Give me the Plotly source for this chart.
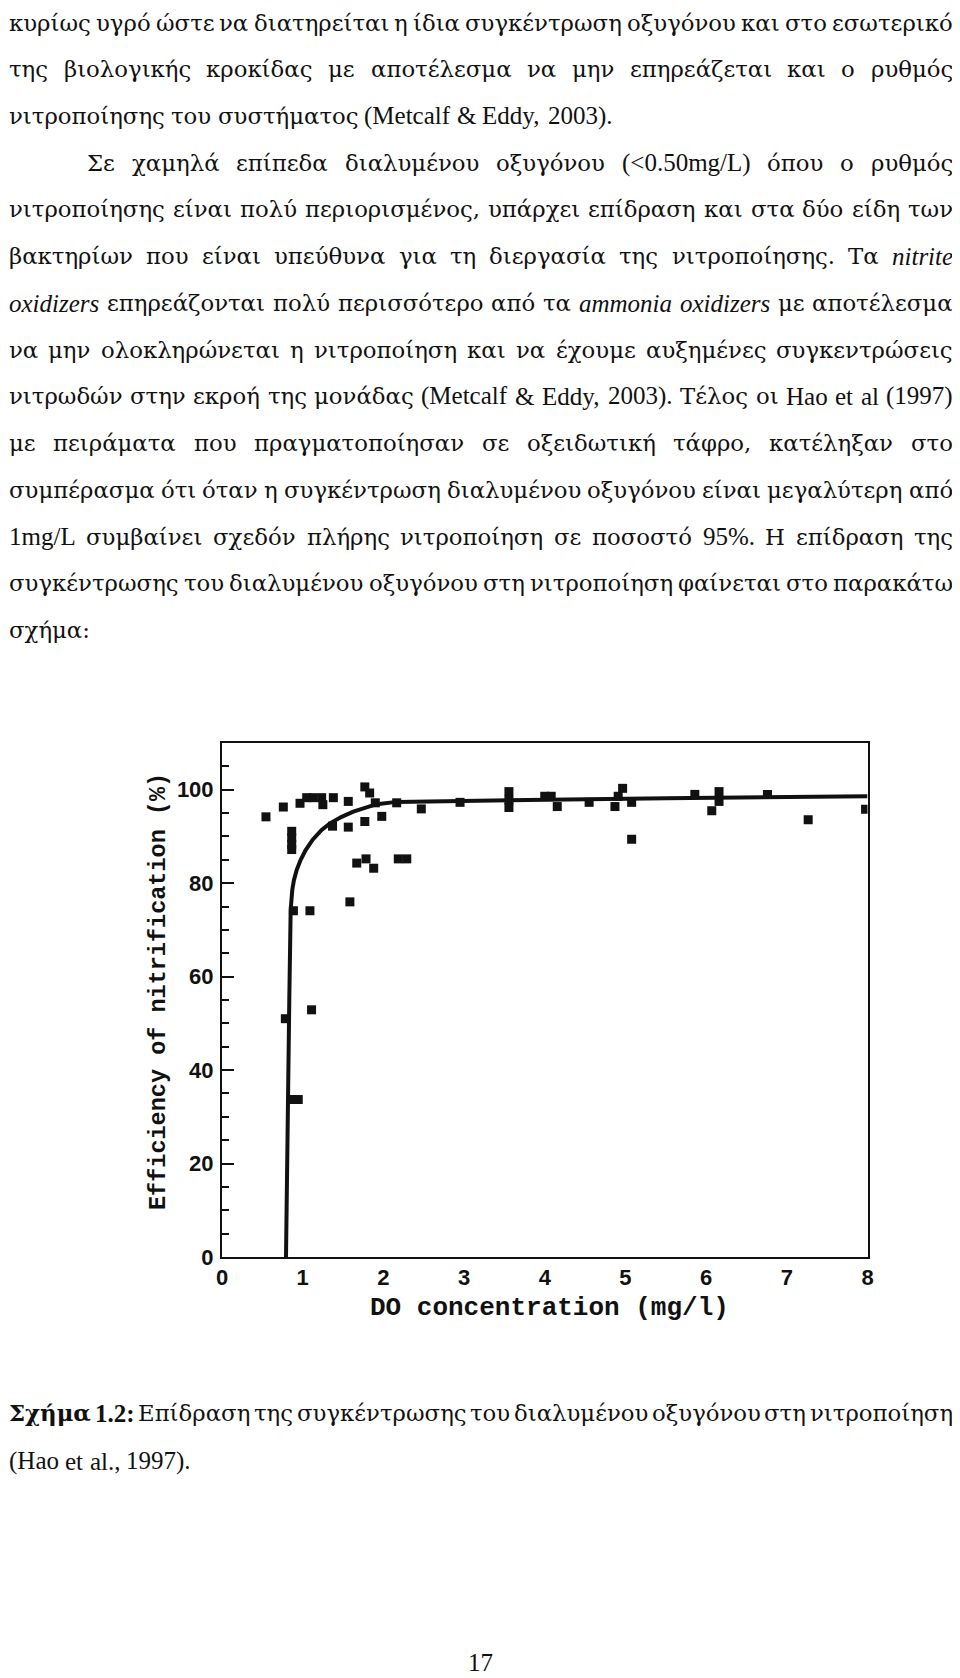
import plotly.graph_objects as go
import struct, glob, os

W, H = 960, 1678
PAGE_OFFSET = 8  # the page body has an 8 px margin; positions below are in page pixels

# ---------------- chart data ----------------
do_conc = [0.545, 0.76, 0.864, 0.864, 0.864, 0.864, 0.967, 1.05, 1.13, 1.235, 1.38,
           1.25, 1.37, 1.565, 1.565, 1.77, 1.83, 1.77, 1.90, 1.98, 1.67, 1.785, 1.88,
           2.185, 2.29, 2.165, 2.47, 2.95, 1.585, 0.885, 1.09, 1.11, 0.785, 0.864, 0.945,
           3.556, 3.556, 3.556, 4.0, 4.08, 4.155, 4.55, 4.87, 4.91, 4.965, 5.077, 5.077,
           5.86, 6.07, 6.16, 6.16, 6.76, 7.265, 7.976]
efficiency = [94.2, 96.3, 91.1, 89.7, 88.3, 87.2, 97.1, 98.3, 98.3, 98.3, 98.3,
              96.8, 92.2, 97.5, 92.0, 100.6, 99.3, 93.2, 97.2, 94.3, 84.3, 85.2, 83.2,
              85.2, 85.2, 97.2, 95.9, 97.3, 76.0, 74.1, 74.1, 52.9, 51.0, 33.7, 33.7,
              99.6, 97.8, 96.2, 98.6, 98.6, 96.4, 97.3, 96.4, 98.6, 100.3, 97.3, 89.4,
              99.0, 95.5, 99.6, 97.5, 99.0, 93.6, 95.8]

curve_do = [0.793, 0.805, 0.824, 0.834, 0.851, 0.855, 0.871, 0.892, 0.925, 0.975, 1.037,
            1.124, 1.235, 1.338, 1.483, 1.627, 1.772, 1.917, 2.165, 2.99, 5.51, 8.0]
curve_eff = [0.0, 22.9, 48.6, 55.0, 74.3, 75.7, 78.6, 80.7, 82.8, 85.0, 87.1,
             89.3, 91.4, 92.8, 94.2, 95.3, 96.2, 96.9, 97.4, 97.6, 98.2, 98.6]

x_ticks = [0, 1, 2, 3, 4, 5, 6, 7, 8]
y_ticks = [0, 20, 40, 60, 80, 100]
x_title = "DO concentration (mg/l)"
y_title = "Efficiency of nitrification (%)"

# ---------------- page text ----------------
# (text, justified, left indent px); _word_ = italic, **word** = bold
TEXT_L = 9
body_lines = [
    ("κυρίως υγρό ώστε να διατηρείται η ίδια συγκέντρωση οξυγόνου και στο εσωτερικό", True, TEXT_L),
    ("της βιολογικής κροκίδας με αποτέλεσμα να μην επηρεάζεται και ο ρυθμός", True, TEXT_L),
    ("νιτροποίησης του συστήματος (Metcalf & Eddy, 2003).", False, TEXT_L),
    ("Σε χαμηλά επίπεδα διαλυμένου οξυγόνου (<0.50mg/L) όπου ο ρυθμός", True, 87),
    ("νιτροποίησης είναι πολύ περιορισμένος, υπάρχει επίδραση και στα δύο είδη των", True, TEXT_L),
    ("βακτηρίων που είναι υπεύθυνα για τη διεργασία της νιτροποίησης. Τα _nitrite_", True, TEXT_L),
    ("_oxidizers_ επηρεάζονται πολύ περισσότερο από τα _ammonia_ _oxidizers_ με αποτέλεσμα", True, TEXT_L),
    ("να μην ολοκληρώνεται η νιτροποίηση και να έχουμε αυξημένες συγκεντρώσεις", True, TEXT_L),
    ("νιτρωδών στην εκροή της μονάδας (Metcalf & Eddy, 2003). Τέλος οι Hao et al (1997)", True, TEXT_L),
    ("με πειράματα που πραγματοποίησαν σε οξειδωτική τάφρο, κατέληξαν στο", True, TEXT_L),
    ("συμπέρασμα ότι όταν η συγκέντρωση διαλυμένου οξυγόνου είναι μεγαλύτερη από", True, TEXT_L),
    ("1mg/L συμβαίνει σχεδόν πλήρης νιτροποίηση σε ποσοστό 95%. Η επίδραση της", True, TEXT_L),
    ("συγκέντρωσης του διαλυμένου οξυγόνου στη νιτροποίηση φαίνεται στο παρακάτω", True, TEXT_L),
    ("σχήμα:", False, TEXT_L),
]
caption_lines = [
    ("**Σχήμα** **1.2:** Επίδραση της συγκέντρωσης του διαλυμένου οξυγόνου στη νιτροποίηση", True, TEXT_L),
    ("(Hao et al., 1997).", False, TEXT_L),
]
page_number = "17"

# ---------------- geometry (page pixels) ----------------
PLOT_L, PLOT_R, PLOT_T, PLOT_B = 222, 867.5, 743, 1257
TEXT_R = 953
BODY_Y0, BODY_DY = 22.5, 46.75
CAPTION_Y = [1413, 1461]


def px(x):
    return (x - PAGE_OFFSET) / W


def py(y):
    return 1 - (y - PAGE_OFFSET) / H


# ---------------- font metrics (for justification) ----------------
def load_metrics(path):
    with open(path, 'rb') as f:
        data = f.read()
    num = struct.unpack('>H', data[4:6])[0]
    tables = {}
    for i in range(num):
        tag, cs, off, ln = struct.unpack('>4sIII', data[12 + 16 * i:28 + 16 * i])
        tables[tag.decode('latin1')] = off
    head = tables['head']
    upem = struct.unpack('>H', data[head + 18:head + 20])[0]
    hhea = tables['hhea']
    nhm = struct.unpack('>H', data[hhea + 34:hhea + 36])[0]
    hm = tables['hmtx']
    adv = [struct.unpack('>H', data[hm + 4 * i:hm + 4 * i + 2])[0] for i in range(nhm)]
    cm = tables['cmap']
    nsub = struct.unpack('>H', data[cm + 2:cm + 4])[0]
    sub = None
    for i in range(nsub):
        pid, eid, off = struct.unpack('>HHI', data[cm + 4 + 8 * i:cm + 12 + 8 * i])
        fmt = struct.unpack('>H', data[cm + off:cm + off + 2])[0]
        if fmt == 4 and (pid == 3 or pid == 0):
            sub = cm + off
            break
    segx2 = struct.unpack('>H', data[sub + 6:sub + 8])[0]
    seg = segx2 // 2
    ends = struct.unpack('>%dH' % seg, data[sub + 14:sub + 14 + segx2])
    so = sub + 16 + segx2
    starts = struct.unpack('>%dH' % seg, data[so:so + segx2])
    do_ = so + segx2
    deltas = struct.unpack('>%dh' % seg, data[do_:do_ + segx2])
    ro = do_ + segx2
    ros = struct.unpack('>%dH' % seg, data[ro:ro + segx2])
    cache = {}

    def gid(c):
        for k in range(seg):
            if c <= ends[k]:
                if c < starts[k]:
                    return 0
                if ros[k] == 0:
                    return (c + deltas[k]) & 0xFFFF
                addr = ro + 2 * k + ros[k] + 2 * (c - starts[k])
                g = struct.unpack('>H', data[addr:addr + 2])[0]
                return (g + deltas[k]) & 0xFFFF if g else 0
        return 0

    def width(s, size):
        tot = 0
        for ch in s:
            if ch not in cache:
                g = gid(ord(ch))
                cache[ch] = adv[g] if g < nhm else adv[-1]
            tot += cache[ch]
        return tot * size / upem
    return width


def fallback_width(s, size):
    w = 0
    for ch in s:
        if ch == ' ':
            w += 0.25
        elif ch in 'ιίlitfrj.,:;()/':
            w += 0.3
        elif ch in 'mMωψφW%&':
            w += 0.75
        elif ch.isupper():
            w += 0.67
        else:
            w += 0.48
    return w * size


def find_font(name):
    for root in ['/usr/share/fonts', '/usr/local/share/fonts', os.path.expanduser('~/.fonts'),
                 os.path.expanduser('~/.local/share/fonts')]:
        hits = glob.glob(os.path.join(root, '**', name), recursive=True)
        if hits:
            return hits[0]
    return None


metrics = {}
for key, fname in [('lat_normal', 'LiberationSerif-Regular.ttf'),
                   ('lat_italic', 'LiberationSerif-Italic.ttf'),
                   ('lat_bold', 'LiberationSerif-Bold.ttf'),
                   ('grk_normal', 'DejaVuSerif.ttf'),
                   ('grk_bold', 'DejaVuSerif-Bold.ttf')]:
    p = find_font(fname)
    try:
        metrics[key] = load_metrics(p) if p else fallback_width
    except Exception:
        metrics[key] = fallback_width

LAT_FAMILY = 'Liberation Serif'
GRK_FAMILY = 'DejaVu Serif'
FS = 25.0  # Latin (Times-like) size


def is_greek(s):
    return any('\u0370' <= c <= '\u03ff' or '\u1f00' <= c <= '\u1fff' for c in s)


# Greek size so that line 3 spans 6 -> 617 px as in the page
try:
    lat_w = metrics['lat_normal']("(Metcalf & Eddy, 2003).", FS) + 2 * metrics['lat_normal'](' ', FS)
    grk_w = metrics['grk_normal']("νιτροποίησης του συστήματος", 22)
    GS = 22 * (611 - lat_w) / grk_w
    GS = max(19.0, min(25.0, GS))
except Exception:
    GS = 22.0
GS = round(GS, 1)


def parse_word(w):
    if w.startswith('**') and w.endswith('**'):
        return w[2:-2], 'bold'
    if w.startswith('_') and w.endswith('_') and len(w) > 2:
        return w[1:-1], 'italic'
    return w, 'normal'


def word_style(text, style):
    if is_greek(text):
        if style == 'bold':
            return GRK_FAMILY, GS, 'normal', 'bold', metrics['grk_bold']
        return GRK_FAMILY, GS, 'normal', 'normal', metrics['grk_normal']
    if style == 'bold':
        return LAT_FAMILY, FS, 'normal', 'bold', metrics['lat_bold']
    if style == 'italic':
        return LAT_FAMILY, FS, 'italic', 'normal', metrics['lat_italic']
    return LAT_FAMILY, FS, 'normal', 'normal', metrics['lat_normal']


def esc(s):
    return s.replace('&', '&amp;').replace('<', '&lt;').replace('>', '&gt;')


annotations = []


def add_word(text, fam, size, st, wt, x, y_center, anchor='left'):
    annotations.append(dict(
        text=esc(text), x=px(x), y=py(y_center), xref='paper', yref='paper',
        xanchor=anchor, yanchor='middle', showarrow=False, borderpad=0, borderwidth=0,
        font=dict(family=fam, size=size, color='#111111', style=st, weight=wt)))


def add_line(line, justified, left, yc):
    words = [parse_word(w) for w in line.split(' ')]
    styles = [word_style(t, s) for t, s in words]
    widths = [m(t, sz) for (t, s), (f, sz, st, wt, m) in zip(words, styles)]
    if justified and len(words) > 1:
        gap = (TEXT_R - left - sum(widths)) / (len(words) - 1)
    else:
        gap = metrics['lat_normal'](' ', FS)
    x = left
    n = len(words)
    for i, ((t, s), (f, sz, st, wt, m), w) in enumerate(zip(words, styles, widths)):
        if justified and i == n - 1 and n > 1:
            add_word(t, f, sz, st, wt, TEXT_R, yc, anchor='right')
        else:
            add_word(t, f, sz, st, wt, x, yc)
        x += w + gap


for i, (line, just, left) in enumerate(body_lines):
    add_line(line, just, left, BODY_Y0 + BODY_DY * i)
for (line, just, left), yc in zip(caption_lines, CAPTION_Y):
    add_line(line, just, left, yc)

annotations.append(dict(text=page_number, x=px(480), y=py(1662), xref='paper', yref='paper',
                        xanchor='center', yanchor='middle', showarrow=False,
                        font=dict(family=LAT_FAMILY, size=FS, color='#111111')))

# axis titles
TITLE_FONT = 'Liberation Mono, Courier New, monospace'
annotations.append(dict(text=x_title, x=px(549), y=py(1308), xref='paper', yref='paper',
                        xanchor='center', yanchor='middle', showarrow=False,
                        font=dict(family=TITLE_FONT, size=26, color='#111111', weight='bold')))
annotations.append(dict(text=y_title, x=px(158), y=py(992), xref='paper', yref='paper',
                        xanchor='center', yanchor='middle', showarrow=False, textangle=-90,
                        font=dict(family=TITLE_FONT, size=23.5, color='#111111', weight='bold')))

# ---------------- figure ----------------
fig = go.Figure()
fig.add_trace(go.Scatter(x=curve_do, y=curve_eff, mode='lines',
                         line=dict(color='#111111', width=4), hoverinfo='skip'))
fig.add_trace(go.Scatter(x=do_conc, y=efficiency, mode='markers',
                         marker=dict(symbol='square', size=9, color='#111111',
                                     line=dict(width=0))))

tickfont = dict(family='Liberation Sans, Arial, sans-serif', size=22, color='#111111',
                weight='bold')
fig.update_layout(
    width=W, height=H, margin=dict(l=0, r=0, t=0, b=0),
    paper_bgcolor='white', plot_bgcolor='white', showlegend=False,
    annotations=annotations,
    xaxis=dict(domain=[px(PLOT_L), px(PLOT_R)], range=[0, 8], tickvals=x_ticks,
               ticktext=[str(v) for v in x_ticks], ticks='', showgrid=False, zeroline=False,
               showline=True, linewidth=2, linecolor='#111111', mirror=True,
               tickfont=tickfont, ticklabelstandoff=0, automargin=False),
    yaxis=dict(domain=[py(PLOT_B), py(PLOT_T)], range=[0, 110], tickvals=y_ticks,
               ticktext=[str(v) for v in y_ticks], ticks='inside', ticklen=12, tickwidth=1.5,
               tickcolor='#111111', showgrid=False, zeroline=False,
               showline=True, linewidth=2, linecolor='#111111', mirror=True,
               minor=dict(ticks='inside', tick0=0, dtick=5, ticklen=7, tickwidth=1.5,
                          tickcolor='#111111', showgrid=False),
               tickfont=tickfont, ticklabelstandoff=2, automargin=False),
)

fig.write_html("out.html")
